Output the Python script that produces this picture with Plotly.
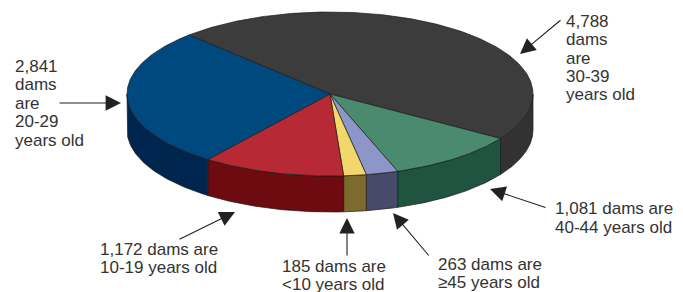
import numpy as np
import plotly.graph_objects as go

# ---- data ----
age_groups = ["30-39", "40-44", "≥45", "<10", "10-19", "20-29"]
dams = [4788, 1081, 263, 185, 1172, 2841]
top_colors = ["#3c3c3c", "#4a8a6e", "#8c96c8", "#f2d76b", "#b72a35", "#00497f"]
side_colors = ["#323232", "#1f5540", "#474b6b", "#7c6a2e", "#6e0b10", "#00254f"]

# label text lines per slice (numbers formatted from the data)
label_lines = [
    [f"{dams[0]:,}", "dams", "are", age_groups[0], "years old"],
    [f"{dams[1]:,} dams are", f"{age_groups[1]} years old"],
    [f"{dams[2]:,} dams are", f"{age_groups[2]} years old"],
    [f"{dams[3]:,} dams are", f"{age_groups[3]} years old"],
    [f"{dams[4]:,} dams are", f"{age_groups[4]} years old"],
    [f"{dams[5]:,}", "dams", "are", age_groups[5], "years old"],
]

# ---- layout geometry (pixel-like data space) ----
W, H = 683, 292
OFF = 8  # page body margin
CX, CY, RX, RY, DEPTH = 330, 94, 203, 82, 36
START = 134.0  # degrees, slices run clockwise

# label placement: (x_left, first line y, line spacing), arrow (x0,y0)->(x1,y1)
label_pos = [
    (564, 21.5, 18.3),
    (553, 208, 19.5),
    (436, 264, 18.0),
    (280, 266, 18.5),
    (98, 249, 18.0),
    (13, 66, 18.5),
]
arrows = [
    (562, 19, 520, 54),
    (547, 208, 490, 189),
    (430, 257, 393, 213),
    (347, 257, 347, 218),
    (178, 240, 235, 212),
    (58, 103, 121, 103),
]

def ell(theta_deg, dy=0.0):
    t = np.radians(theta_deg)
    return CX + RX * np.cos(t), CY - RY * np.sin(t) + dy

total = float(sum(dams))
angles = [START]
for v in dams:
    angles.append(angles[-1] - 360.0 * v / total)

fig = go.Figure()
edge = dict(color="#1a1a1a", width=0.7)

# side walls (visible lower half: theta in [-180, 0])
for i in range(len(dams)):
    a1, a2 = angles[i], angles[i + 1]  # a1 > a2
    for lo_b, hi_b in [(-180.0, 0.0), (-540.0, -360.0)]:
        lo, hi = max(a2, lo_b), min(a1, hi_b)
        if hi <= lo:
            continue
        th = np.linspace(hi, lo, 80)
        xt, yt = ell(th)
        xb, yb = ell(th[::-1], DEPTH)
        xs = np.concatenate([xt, xb, xt[:1]])
        ys = np.concatenate([yt, yb, yt[:1]])
        fig.add_trace(go.Scatter(x=xs, y=ys, mode="lines", fill="toself",
                                 fillcolor=side_colors[i], line=edge,
                                 hoverinfo="skip", showlegend=False))

# top faces
for i in range(len(dams)):
    a1, a2 = angles[i], angles[i + 1]
    th = np.linspace(a1, a2, 200)
    xa, ya = ell(th)
    xs = np.concatenate([[CX], xa, [CX]])
    ys = np.concatenate([[CY], ya, [CY]])
    fig.add_trace(go.Scatter(x=xs, y=ys, mode="lines", fill="toself",
                             fillcolor=top_colors[i], line=edge,
                             name=age_groups[i], hoverinfo="name",
                             showlegend=False))

annotations = []
font = dict(family="Liberation Sans, Arial, sans-serif", size=17, color="#333333")
for lines, (xl, y0, dy) in zip(label_lines, label_pos):
    for k, txt in enumerate(lines):
        annotations.append(dict(x=xl, y=y0 + k * dy, xref="x", yref="y",
                                text=txt, showarrow=False, xanchor="left",
                                yanchor="middle", font=font))
for (x0, y0, x1, y1) in arrows:
    annotations.append(dict(x=x1, y=y1, ax=x0, ay=y0, xref="x", yref="y",
                            axref="x", ayref="y", text="", showarrow=True,
                            arrowhead=2, arrowsize=2.8, arrowwidth=1.1,
                            arrowcolor="#222222"))

fig.update_layout(
    width=W - OFF, height=H - OFF,
    margin=dict(l=0, r=0, t=0, b=0),
    paper_bgcolor="white", plot_bgcolor="white",
    xaxis=dict(range=[OFF, W], visible=False, fixedrange=True),
    yaxis=dict(range=[H, OFF], visible=False, fixedrange=True),
    annotations=annotations,
    showlegend=False,
)

fig.write_html("out.html")
